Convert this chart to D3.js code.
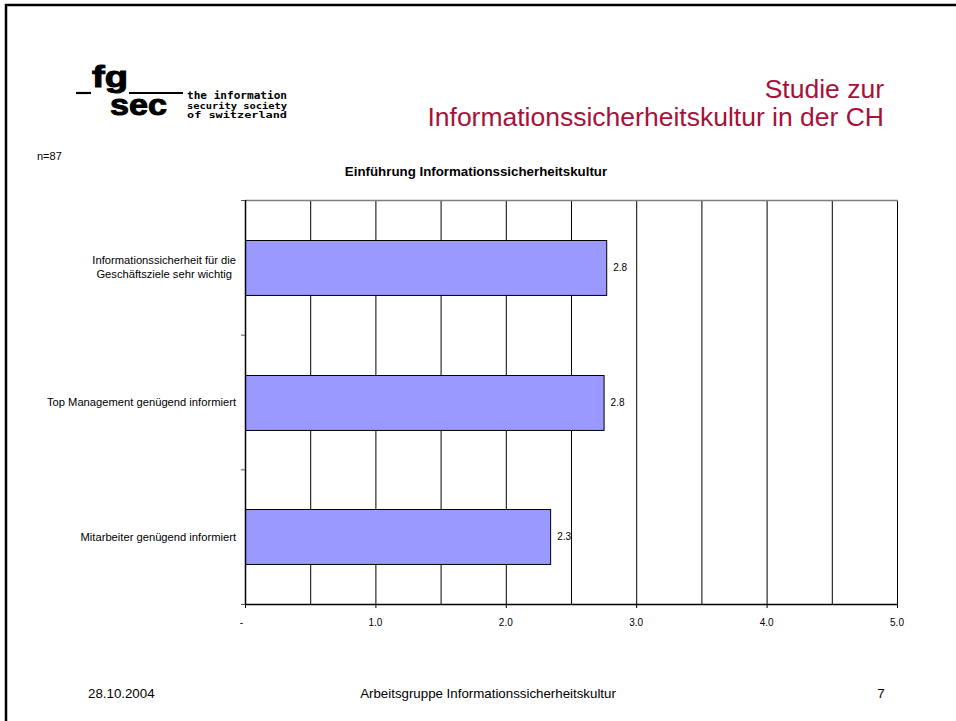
<!DOCTYPE html>
<html><head><meta charset="utf-8">
<script src="https://cdn.jsdelivr.net/npm/d3@7"></script>
<style>body{margin:0;background:#fff}svg{display:block;font-family:"Liberation Sans",Arial,sans-serif}</style>
</head><body>
<script>
const categories = [
  ["Informationssicherheit für die", "Geschäftsziele sehr wichtig"],
  ["Top Management genügend informiert"],
  ["Mitarbeiter genügend informiert"]
];
const values = [2.77, 2.75, 2.34];
const tickValues = [0, 1, 2, 3, 4, 5];
const tickLabels = ["-", "1.0", "2.0", "3.0", "4.0", "5.0"];
const gridValues = [0.5, 1, 1.5, 2, 2.5, 3, 3.5, 4, 4.5, 5];
const chartTitle = "Einführung Informationssicherheitskultur";
const nLabel = "n=87";

const W = 956, H = 721;
const svg = d3.select("body").append("svg").attr("width", W).attr("height", H);

// page frame
svg.append("rect").attr("x", 6).attr("y", 5).attr("width", W + 10).attr("height", H + 10)
  .attr("fill", "none").attr("stroke", "#000").attr("stroke-width", 2.5);

// logo
const logo = svg.append("g");
logo.append("text").attr("x", 92).attr("y", 87).attr("font-size", 30).attr("font-weight", "bold")
  .attr("textLength", 36).attr("lengthAdjust", "spacingAndGlyphs")
  .attr("stroke", "#000").attr("stroke-width", 1).text("fg");
logo.append("line").attr("x1", 76).attr("x2", 91).attr("y1", 93).attr("y2", 93).attr("stroke", "#000").attr("stroke-width", 2.2);
logo.append("line").attr("x1", 129).attr("x2", 183).attr("y1", 93).attr("y2", 93).attr("stroke", "#000").attr("stroke-width", 2.2);
logo.append("text").attr("x", 110).attr("y", 115).attr("font-size", 30).attr("font-weight", "bold")
  .attr("textLength", 57).attr("lengthAdjust", "spacingAndGlyphs")
  .attr("stroke", "#000").attr("stroke-width", 1).text("sec");
["the information", "security society", "of switzerland"].forEach((t, i) => {
  logo.append("text").attr("x", 187).attr("y", 99 + i * 9.5).attr("font-size", i === 0 ? 10.5 : 9.5)
    .attr("font-weight", "bold").attr("font-family", "DejaVu Sans Mono, Liberation Mono, monospace")
    .attr("textLength", 100).attr("lengthAdjust", "spacingAndGlyphs").text(t);
});

// header
const red = "#A6123A";
svg.append("text").attr("x", 884).attr("y", 98).attr("text-anchor", "end").attr("font-size", 26.5)
  .attr("fill", red).text("Studie zur");
svg.append("text").attr("x", 884).attr("y", 126).attr("text-anchor", "end").attr("font-size", 26.5)
  .attr("fill", red).text("Informationssicherheitskultur in der CH");

// n label & title
svg.append("text").attr("x", 37).attr("y", 160).attr("font-size", 11).text(nLabel);
svg.append("text").attr("x", 476).attr("y", 176).attr("text-anchor", "middle").attr("font-size", 13.3)
  .attr("font-weight", "bold").text(chartTitle);

// chart
const pLeft = 245, pRight = 897, pTop = 200, pBottom = 604;
const x = d3.scaleLinear().domain([0, 5]).range([pLeft, pRight]);
const y = d3.scaleBand().domain(d3.range(categories.length)).range([pTop, pBottom]).paddingInner(0.592).paddingOuter(0.296);
const yTicks = d3.scaleBand().domain(d3.range(categories.length)).range([pTop, pBottom]);

// grid
svg.append("g").selectAll("line").data(gridValues).join("line")
  .attr("x1", d => x(d) + 0.5).attr("x2", d => x(d) + 0.5).attr("y1", pTop).attr("y2", pBottom)
  .attr("stroke", "#000").attr("stroke-width", 1);
svg.append("line").attr("x1", pLeft).attr("x2", pRight + 1).attr("y1", pTop + 0.5).attr("y2", pTop + 0.5)
  .attr("stroke", "#808080").attr("stroke-width", 1.5);

// bars
svg.append("g").selectAll("rect").data(values).join("rect")
  .attr("x", x(0) + 0.5).attr("y", (d, i) => Math.round(y(i)) + 0.5)
  .attr("width", d => x(d) - x(0)).attr("height", y.bandwidth())
  .attr("fill", "#9999FF").attr("stroke", "#000").attr("stroke-width", 1);

// value labels
svg.append("g").selectAll("text").data(values).join("text")
  .attr("x", d => x(d) + 7).attr("y", (d, i) => y(i) + y.bandwidth() / 2 + 3.5)
  .attr("font-size", 10).text(d => d3.format(".1f")(d));

// y axis
const yAxis = svg.append("g");
yAxis.append("line").attr("x1", pLeft + 0.5).attr("x2", pLeft + 0.5).attr("y1", pTop).attr("y2", pBottom + 1)
  .attr("stroke", "#000").attr("stroke-width", 1.5);
const yt = d3.range(categories.length + 1).map(i => i < categories.length ? yTicks(i) : pBottom);
yAxis.selectAll("line.t").data(yt).join("line").attr("class", "t")
  .attr("x1", pLeft - 4).attr("x2", pLeft).attr("y1", d => d + 0.5).attr("y2", d => d + 0.5)
  .attr("stroke", "#555").attr("stroke-width", 1);

// category labels
categories.forEach((lines, i) => {
  const cy = y(i) + y.bandwidth() / 2;
  const g = svg.append("g");
  const lh = 14;
  const ts = lines.map((l, j) => g.append("text").attr("font-size", 11.2)
    .attr("y", cy + 4 + (j - (lines.length - 1) / 2) * lh).text(l));
  const maxW = d3.max(ts, t => t.node().getComputedTextLength());
  const cx = 236 - maxW / 2;
  ts.forEach(t => t.attr("x", cx).attr("text-anchor", "middle"));
});

// x axis
const xAxis = svg.append("g");
xAxis.append("line").attr("x1", pLeft).attr("x2", pRight + 1).attr("y1", pBottom + 0.5).attr("y2", pBottom + 0.5)
  .attr("stroke", "#000").attr("stroke-width", 1.5);
xAxis.selectAll("line.t").data(tickValues).join("line").attr("class", "t")
  .attr("x1", d => x(d) + 0.5).attr("x2", d => x(d) + 0.5).attr("y1", pBottom).attr("y2", pBottom + 4)
  .attr("stroke", "#000");
xAxis.selectAll("text").data(tickValues).join("text")
  .attr("x", d => x(d)).attr("y", 626).attr("text-anchor", d => d === 0 ? "end" : "middle")
  .attr("dx", d => d === 0 ? -2 : 0).attr("font-size", 10).text((d, i) => tickLabels[i]);

// footer
svg.append("text").attr("x", 88).attr("y", 698).attr("font-size", 13.3).text("28.10.2004");
svg.append("text").attr("x", 488).attr("y", 698).attr("text-anchor", "middle").attr("font-size", 13.3).text("Arbeitsgruppe Informationssicherheitskultur");
svg.append("text").attr("x", 881).attr("y", 698).attr("text-anchor", "middle").attr("font-size", 13.3).text("7");
</script>
</body></html>
